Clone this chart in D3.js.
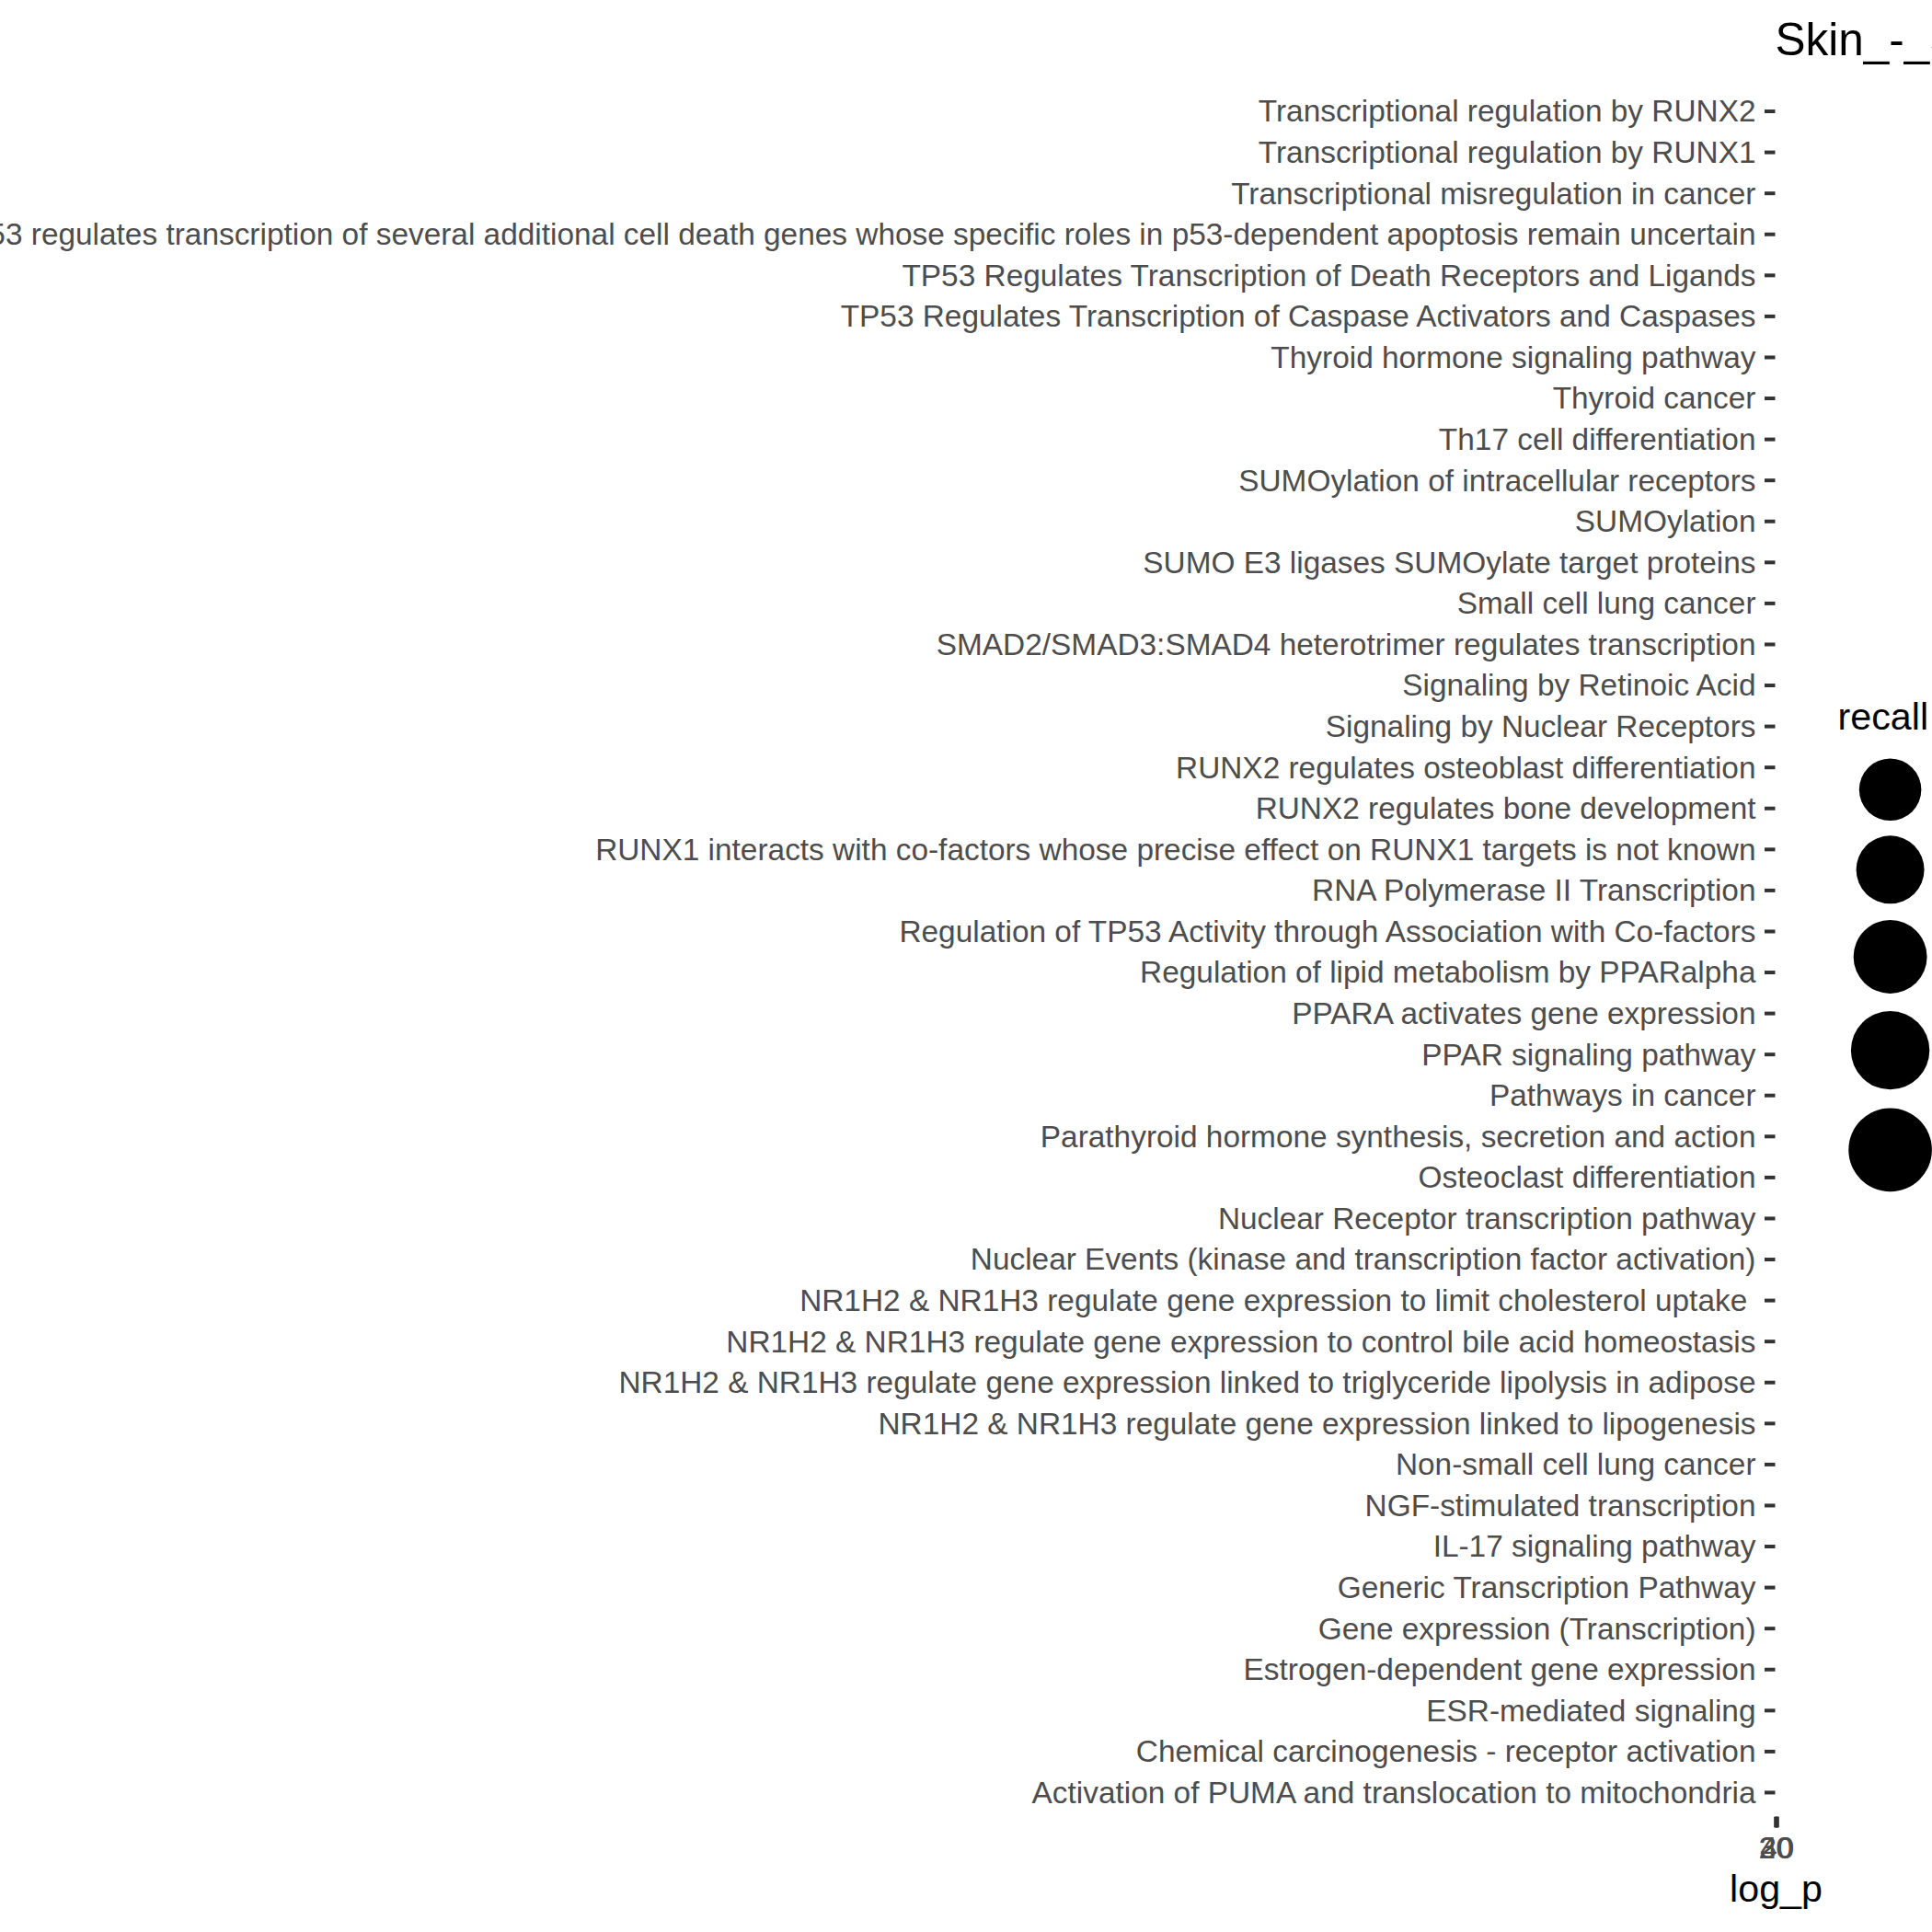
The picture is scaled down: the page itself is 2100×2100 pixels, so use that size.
<!DOCTYPE html>
<html>
<head>
<meta charset="utf-8">
<script src="https://cdn.jsdelivr.net/npm/d3@7"></script>
<style>
  html, body { margin: 0; padding: 0; background: #ffffff; }
  svg { display: block; }
  text { font-family: "Liberation Sans", Arial, Helvetica, sans-serif; }
</style>
</head>
<body>
<svg id="chart" width="2100" height="2100"></svg>
<script>
// ---- data ----
const chartTitle = "Skin_-_Sun_Exposed_(Lower_leg)";
const xTitle = "log_p";
const legendTitle = "recall";

// pathway categories, listed top to bottom
const categories = [
  "Transcriptional regulation by RUNX2",
  "Transcriptional regulation by RUNX1",
  "Transcriptional misregulation in cancer",
  "TP53 regulates transcription of several additional cell death genes whose specific roles in p53-dependent apoptosis remain uncertain",
  "TP53 Regulates Transcription of Death Receptors and Ligands",
  "TP53 Regulates Transcription of Caspase Activators and Caspases",
  "Thyroid hormone signaling pathway",
  "Thyroid cancer",
  "Th17 cell differentiation",
  "SUMOylation of intracellular receptors",
  "SUMOylation",
  "SUMO E3 ligases SUMOylate target proteins",
  "Small cell lung cancer",
  "SMAD2/SMAD3:SMAD4 heterotrimer regulates transcription",
  "Signaling by Retinoic Acid",
  "Signaling by Nuclear Receptors",
  "RUNX2 regulates osteoblast differentiation",
  "RUNX2 regulates bone development",
  "RUNX1 interacts with co-factors whose precise effect on RUNX1 targets is not known",
  "RNA Polymerase II Transcription",
  "Regulation of TP53 Activity through Association with Co-factors",
  "Regulation of lipid metabolism by PPARalpha",
  "PPARA activates gene expression",
  "PPAR signaling pathway",
  "Pathways in cancer",
  "Parathyroid hormone synthesis, secretion and action",
  "Osteoclast differentiation",
  "Nuclear Receptor transcription pathway",
  "Nuclear Events (kinase and transcription factor activation)",
  "NR1H2 & NR1H3 regulate gene expression to limit cholesterol uptake ",
  "NR1H2 & NR1H3 regulate gene expression to control bile acid homeostasis",
  "NR1H2 & NR1H3 regulate gene expression linked to triglyceride lipolysis in adipose",
  "NR1H2 & NR1H3 regulate gene expression linked to lipogenesis",
  "Non-small cell lung cancer",
  "NGF-stimulated transcription",
  "IL-17 signaling pathway",
  "Generic Transcription Pathway",
  "Gene expression (Transcription)",
  "Estrogen-dependent gene expression",
  "ESR-mediated signaling",
  "Chemical carcinogenesis - receptor activation",
  "Activation of PUMA and translocation to mitochondria"
];

// x axis tick values (collapsed onto one spot in the squeezed panel)
const xTicks = [20, 30, 40];
const xDomain = [18, 42];

// size legend breaks for recall
const recallBreaks = [0.25, 0.30, 0.35, 0.40, 0.45];
const recallMax = 0.45;

// ---- layout ----
const W = 2100, H = 2100;
const panel = { left: 1929.5, right: 1931.5, top: 93.8, bottom: 1974.7 };
const tickFont = 33.4;

const svg = d3.select("#chart");
svg.append("rect").attr("width", W).attr("height", H).attr("fill", "#ffffff");

const y = d3.scalePoint()
  .domain(categories)
  .range([panel.top, panel.bottom])
  .padding(0.6);

const x = d3.scaleLinear()
  .domain(xDomain)
  .range([panel.left, panel.right]);

// y axis
const yAxis = svg.append("g")
  .attr("transform", `translate(${panel.left},0)`)
  .call(d3.axisLeft(y).tickSize(11.5).tickPadding(9.5).tickSizeOuter(0));
yAxis.select(".domain").remove();
yAxis.selectAll(".tick line").attr("stroke", "#333333").attr("stroke-width", 4);
yAxis.selectAll(".tick text")
  .attr("fill", "#4D4D4D")
  .attr("font-size", tickFont)
  .attr("dy", "0.34em")
  .style("white-space", "pre")
  .attr("font-family", "'Liberation Sans', Arial, Helvetica, sans-serif");

// x axis
const xAxis = svg.append("g")
  .attr("transform", `translate(0,${panel.bottom})`)
  .call(d3.axisBottom(x).tickValues(xTicks).tickSize(11.7).tickPadding(10.3).tickSizeOuter(0));
xAxis.select(".domain").remove();
xAxis.selectAll(".tick line").attr("stroke", "#333333").attr("stroke-width", 4);
xAxis.selectAll(".tick text")
  .attr("fill", "#4D4D4D")
  .attr("font-size", tickFont)
  .attr("font-family", "'Liberation Sans', Arial, Helvetica, sans-serif");

// title
svg.append("text")
  .attr("x", panel.left)
  .attr("y", 60)
  .attr("font-size", 49.5)
  .attr("fill", "#000000")
  .text(chartTitle);

// x axis title
svg.append("text")
  .attr("x", (panel.left + panel.right) / 2)
  .attr("y", 2067)
  .attr("text-anchor", "middle")
  .attr("font-size", 41.25)
  .attr("fill", "#000000")
  .text(xTitle);

// legend
const rScale = d3.scaleSqrt().domain([0, recallMax]).range([0, 45.3]);
const legendX = 2054.6;
let cy = 858.3;
const centers = [];
recallBreaks.forEach((v, i) => {
  if (i > 0) cy += 1.23 * (rScale(recallBreaks[i - 1]) + rScale(v));
  centers.push(cy);
});

svg.append("text")
  .attr("x", 1997.5)
  .attr("y", 793)
  .attr("font-size", 41.25)
  .attr("fill", "#000000")
  .text(legendTitle);

svg.append("g").selectAll("circle")
  .data(recallBreaks)
  .join("circle")
  .attr("cx", legendX)
  .attr("cy", (d, i) => centers[i])
  .attr("r", d => rScale(d))
  .attr("fill", "#000000");
</script>
</body>
</html>
